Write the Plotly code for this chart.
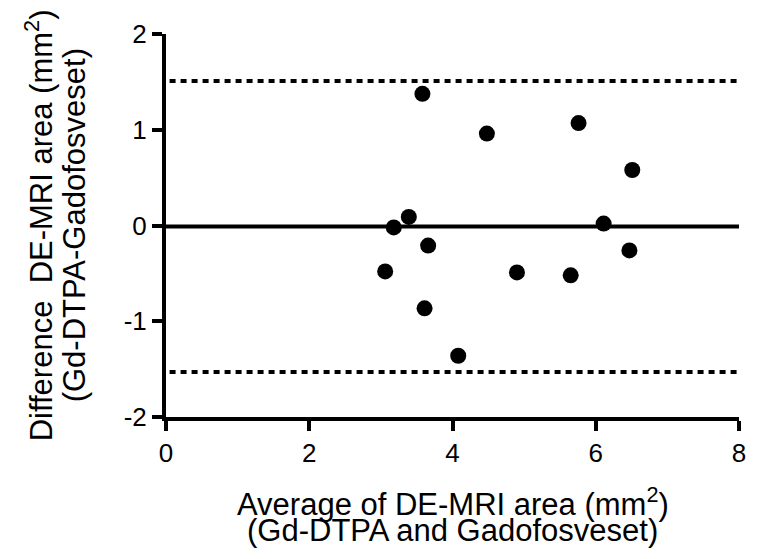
import plotly.graph_objects as go

avg = [3.06, 3.18, 3.39, 3.58, 3.61, 3.66, 4.08, 4.48, 4.90, 5.65, 5.76, 6.11, 6.47, 6.51]
diff = [-0.48, -0.02, 0.09, 1.375, -0.865, -0.21, -1.36, 0.96, -0.49, -0.52, 1.07, 0.02, -0.26, 0.58]
bias = -0.01
upper_loa = 1.51
lower_loa = -1.53
x_ticks = [0, 2, 4, 6, 8]
y_ticks = [-2, -1, 0, 1, 2]

FONT = "Liberation Sans, Arial, sans-serif"
TITLE_SIZE = 31

W, H = 749, 551
L, R, T, B = 158, 11, 26, 142
PW, PH = W - L - R, H - T - B

fig = go.Figure()
fig.add_trace(go.Scatter(x=avg, y=diff, mode="markers",
                         marker=dict(color="black", size=16), showlegend=False,
                         cliponaxis=False))
fig.add_shape(type="line", x0=0, x1=8, y0=bias, y1=bias, xref="x", yref="y",
              line=dict(color="black", width=4))
for v in (upper_loa, lower_loa):
    fig.add_shape(type="line", x0=0.05, x1=8, y0=v, y1=v, xref="x", yref="y",
                  line=dict(color="black", width=4, dash="6px,5px"))

axis_common = dict(showgrid=False, zeroline=False, showline=True, linecolor="black",
                   linewidth=4, ticks="outside", ticklen=10, tickwidth=4, tickcolor="black",
                   tickfont=dict(family=FONT, size=26, color="black"))
fig.update_xaxes(range=[0, 8], tickvals=x_ticks, ticktext=[str(t) for t in x_ticks], **axis_common)
fig.update_yaxes(range=[-2, 2], tickvals=y_ticks, ticktext=[str(t) for t in y_ticks], **axis_common)

def xt(text, top_px):
    fig.add_annotation(text=text, xref="paper", yref="paper", x=0.5, y=-(top_px - (T + PH)) / PH,
                       xanchor="center", yanchor="top", showarrow=False,
                       font=dict(family=FONT, size=TITLE_SIZE, color="black"))

def yt(text, left_px):
    fig.add_annotation(text=text, xref="paper", yref="paper", x=(left_px - L) / PW, y=0.5,
                       xanchor="left", yanchor="middle", textangle=-90, showarrow=False,
                       font=dict(family=FONT, size=TITLE_SIZE, color="black"))

xt("Average of DE-MRI area (mm<sup>2</sup>)", 472)
xt("(Gd-DTPA and Gadofosveset)", 503)
yt("Difference  DE-MRI area (mm<sup>2</sup>)", 7)
yt("(Gd-DTPA-Gadofosveset)", 46)

fig.update_layout(width=W, height=H, plot_bgcolor="white", paper_bgcolor="white",
                  margin=dict(l=L, r=R, t=T, b=B))
fig.write_html("out.html")
